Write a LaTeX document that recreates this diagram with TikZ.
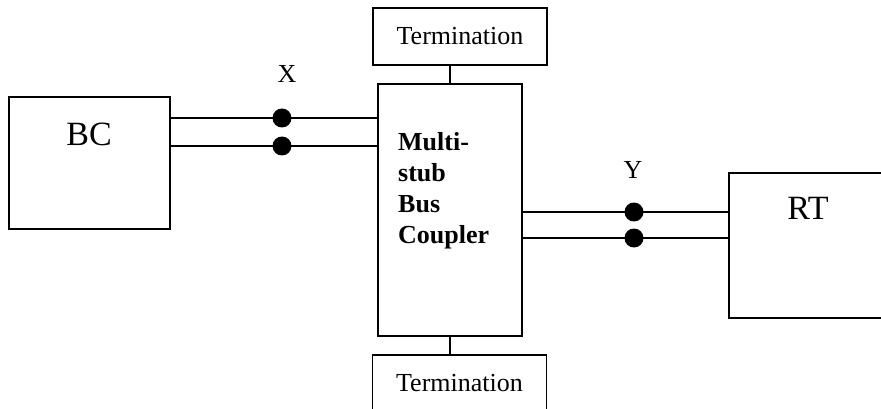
\documentclass[tikz,border=0pt]{standalone}
\usepackage{fontspec}
\setmainfont{Liberation Serif}
\usetikzlibrary{positioning, calc}
\tikzset{
  blk/.style={rectangle, draw, line width=1.4pt, inner sep=0pt},
  termbox/.style={blk, line width=1.1pt, minimum width=174pt,
                  minimum height=57pt, font=\fontsize{26}{31}\selectfont},
  dot/.style={circle, fill=black, inner sep=0pt, minimum size=19pt},
  bus/.style={line width=1.4pt},
  big/.style={font=\fontsize{34}{40}\selectfont},
  tag/.style={font=\fontsize{26}{31}\selectfont},
  cpl/.style={align=left, inner sep=0pt,
              font=\bfseries\fontsize{26}{31}\selectfont},
}

\begin{document}
\begin{tikzpicture}[x=1pt, y=-1pt]

  \useasboundingbox (0,0) rectangle (881,409);

  % blocks
  \node[blk, minimum width=161pt, minimum height=132pt] (bc) at (89.5,163) {};
  \node[big] (bctext) at (89,134.5) {BC};

  \node[blk, minimum width=144pt, minimum height=252pt] (mbc) at (450,210) {};
  \node[cpl, anchor=north west] (mbctext) at (398,132) {Multi-\\stub\\Bus\\Coupler};

  \node[blk, minimum width=160pt, minimum height=145pt] (rt) at (809,245.5) {};
  \node[big] (rttext) at (808,208) {RT};

  \node[termbox] (topterm) at (460,36.5) {Termination};
  \node[termbox] (botterm) at (459.5,383.5) {Termination};

  \draw[bus] (mbc.north) -- (mbc.north |- topterm.south);
  \draw[bus] (mbc.south) -- (mbc.south |- botterm.north);

  % bus X
  \node[tag] (xlbl) at (287,74) {X};
  \node[dot] (xa) at (282,118) {};
  \node[dot] (xb) at (282,146) {};
  \draw[bus] (bc.east |- xa) -- (mbc.west |- xa);
  \draw[bus] (bc.east |- xb) -- (mbc.west |- xb);

  % bus Y
  \node[tag] (ylbl) at (633,170) {Y};
  \node[dot] (ya) at (634,212) {};
  \node[dot] (yb) at (634,238) {};
  \draw[bus] (mbc.east |- ya) -- (rt.west |- ya);
  \draw[bus] (mbc.east |- yb) -- (rt.west |- yb);

\end{tikzpicture}
\end{document}
